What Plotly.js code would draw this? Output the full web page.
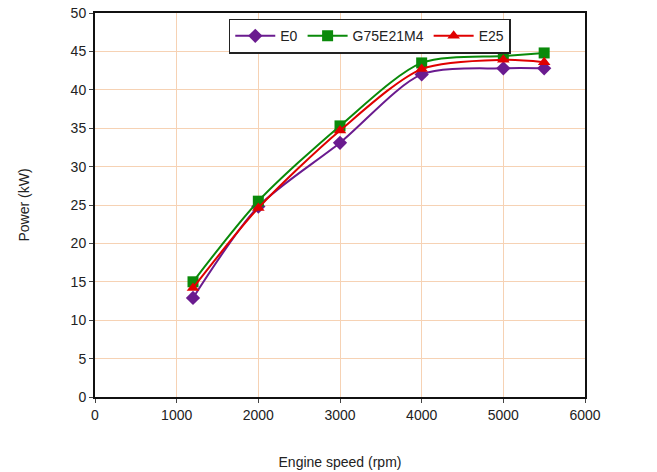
<!DOCTYPE html>
<html>
<head>
<meta charset="utf-8">
<script src="https://cdn.plot.ly/plotly-3.0.1.min.js"></script>
<style>html,body{margin:0;padding:0;background:#fff;}#chart{width:657px;height:472px;}</style>
</head>
<body>
<div id="chart"></div>
<script>
const engineSpeed = [1200, 2000, 3000, 4000, 5000, 5500];
const powerE0 = [12.9, 24.8, 33.1, 42.0, 42.8, 42.8];
const powerG75E21M4 = [15.0, 25.5, 35.3, 43.5, 44.4, 44.8];
const powerE25 = [14.2, 24.6, 34.7, 42.7, 43.9, 43.6];
const seriesNames = ["E0", "G75E21M4", "E25"];
const xTicks = [0, 1000, 2000, 3000, 4000, 5000, 6000];
const yTicks = [0, 5, 10, 15, 20, 25, 30, 35, 40, 45, 50];

const mk = (name, y, color, symbol, size) => ({
  x: engineSpeed, y: y, name: name, type: 'scatter', mode: 'lines+markers',
  line: {color: color, width: 2, shape: 'spline', smoothing: 0.8},
  marker: {color: color, symbol: symbol, size: size}
});

const data = [
  mk(seriesNames[0], powerE0, '#6a1b8f', 'diamond', 11),
  mk(seriesNames[1], powerG75E21M4, '#0a8a0a', 'square', 11),
  mk(seriesNames[2], powerE25, '#e00000', 'triangle-up', 11)
];

const layout = {
  width: 657, height: 472,
  margin: {l: 95, r: 72, t: 13, b: 75},
  paper_bgcolor: '#fff', plot_bgcolor: '#fff',
  font: {family: 'Liberation Sans, Arial, sans-serif', color: '#222', size: 14},
  xaxis: {
    range: [0, 6000], tickvals: xTicks, ticktext: xTicks.map(String),
    showgrid: true, gridcolor: '#f6d2b4', gridwidth: 1,
    showline: true, linecolor: '#111', linewidth: 2, mirror: true,
    ticks: 'outside', ticklen: 4, tickcolor: '#444',
    zeroline: false,
    title: {text: 'Engine speed (rpm)', font: {size: 14}, standoff: 35},
    tickfont: {size: 14}
  },
  yaxis: {
    range: [0, 50], tickvals: yTicks, ticktext: yTicks.map(String),
    showgrid: true, gridcolor: '#f6d2b4', gridwidth: 1,
    showline: true, linecolor: '#111', linewidth: 2, mirror: true,
    ticks: 'outside', ticklen: 4, tickcolor: '#444',
    zeroline: false,
    title: {text: 'Power (kW)', font: {size: 14}, standoff: 38},
    tickfont: {size: 14}
  },
  legend: {
    orientation: 'h', x: 0.273, y: 0.985, xanchor: 'left', yanchor: 'top',
    bgcolor: '#fff', bordercolor: '#222', borderwidth: 1.5,
    font: {size: 14}, itemwidth: 40, tracegroupgap: 0
  },
  showlegend: true
};

Plotly.newPlot('chart', data, layout, {displayModeBar: false, staticPlot: true});
</script>
</body>
</html>
